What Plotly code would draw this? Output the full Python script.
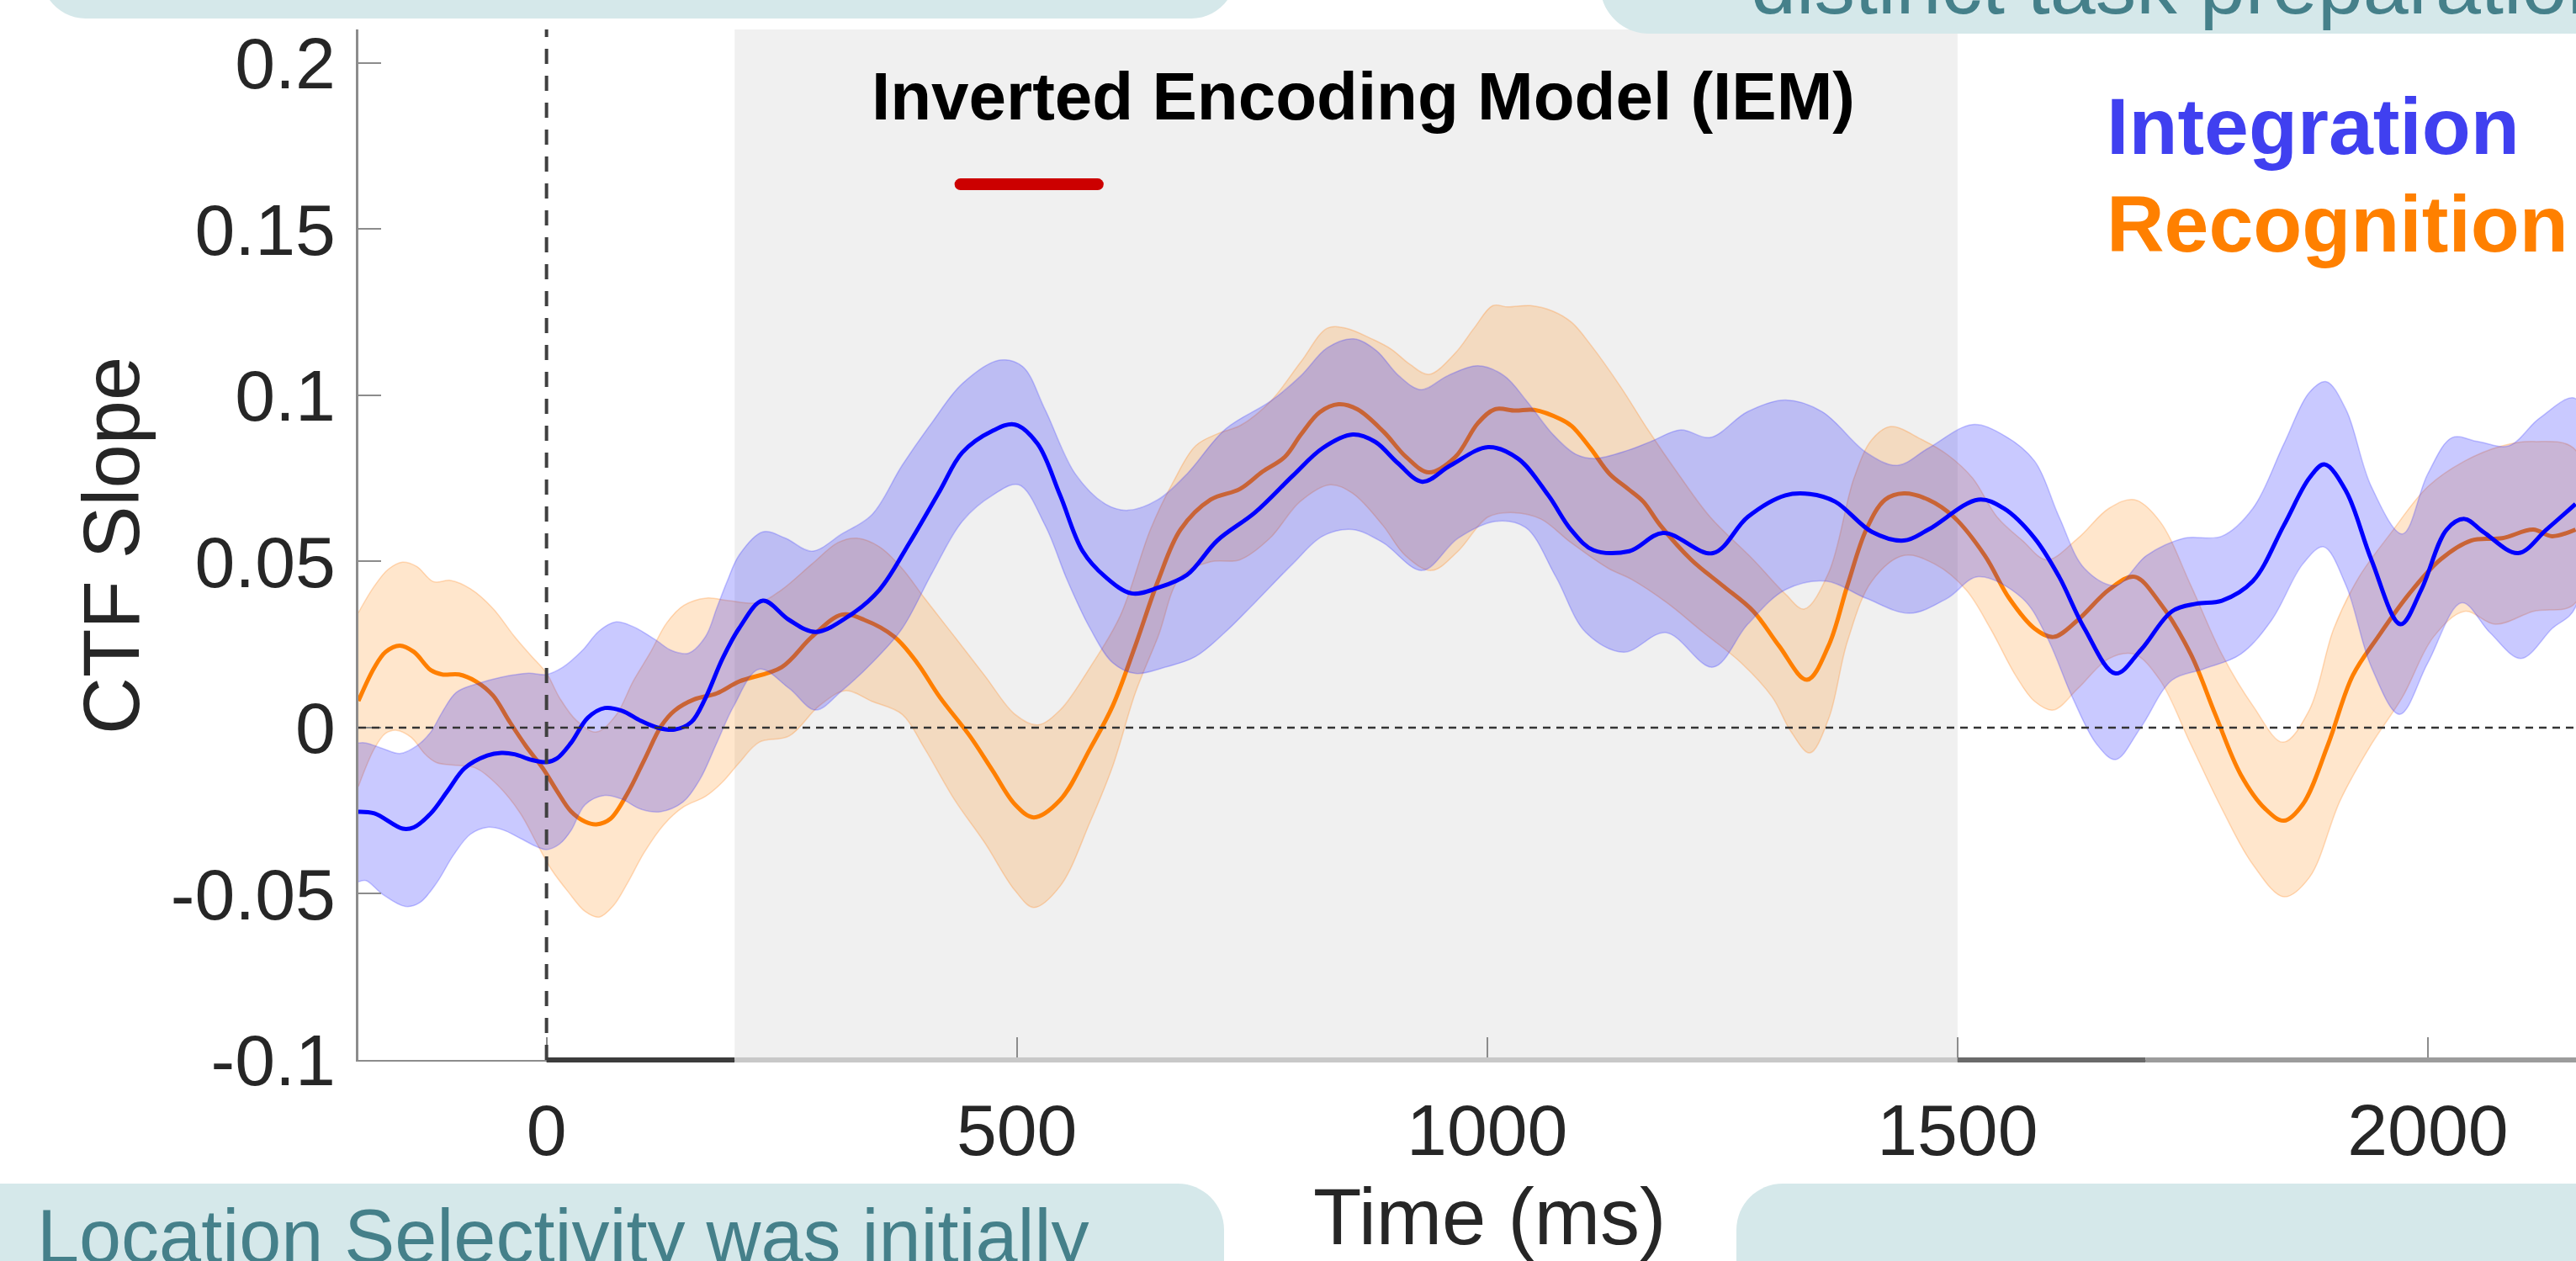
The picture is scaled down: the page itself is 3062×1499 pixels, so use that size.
import plotly.graph_objects as go

# ---------------- data ----------------
int_mean_t = [-200, -183, -153, -141, -123, -105, -87, -63, -48, -34, -16, 0, 11, 26, 44, 62, 80, 100, 118, 136, 154, 169, 187, 205,
              230, 258, 286, 322, 354, 386, 418, 442, 474, 498, 522, 546, 570, 594, 622, 650, 681, 713, 753, 793, 825, 857,
              881, 905, 931, 961, 1001, 1033, 1065, 1089, 1113, 1151, 1187, 1240, 1277, 1317, 1343, 1370, 1409, 1443, 1469,
              1522, 1549, 1582, 1608, 1635, 1668, 1695, 1728, 1754, 1781, 1814, 1847, 1874, 1890, 1913, 1940, 1971, 1993,
              2020, 2039, 2059, 2096, 2126, 2157]
int_mean_v = [-0.0253, -0.0258, -0.0304, -0.0300, -0.0258, -0.0190, -0.0122, -0.0084, -0.0076, -0.0080, -0.0097, -0.0104,
              -0.0093, -0.0046, 0.0030, 0.0059, 0.0051, 0.0021, 0.0000, -0.0006, 0.0017, 0.0089, 0.0207, 0.0300,
              0.0382, 0.0324, 0.0288, 0.0337, 0.0415, 0.0557, 0.0712, 0.0828, 0.0893, 0.0912, 0.0854, 0.0699, 0.0531,
              0.0454, 0.0404, 0.0421, 0.0460, 0.0563, 0.0647, 0.0757, 0.0841, 0.0882, 0.0860, 0.0796, 0.0740, 0.0789,
              0.0844, 0.0809, 0.0699, 0.0596, 0.0534, 0.0531, 0.0586, 0.0525, 0.0634, 0.0699, 0.0703, 0.0680, 0.0589,
              0.0563, 0.0596, 0.0686, 0.0660, 0.0570, 0.0454, 0.0298, 0.0163, 0.0234, 0.0350, 0.0373, 0.0382, 0.0441,
              0.0609, 0.0751, 0.0792, 0.0712, 0.0505, 0.0311, 0.0415, 0.0596, 0.0628, 0.0589, 0.0525, 0.0596, 0.0673]

int_hi_t = [-200, -192, -174, -156, -138, -123, -111, -96, -75, -48, -19, 0, 17, 38, 56, 74, 92, 115, 133, 151, 169, 181, 192,
            205, 230, 254, 282, 314, 346, 378, 410, 442, 482, 506, 530, 562, 594, 618, 650, 681, 722, 770, 802, 830, 858,
            882, 906, 930, 958, 990, 1018, 1042, 1070, 1094, 1114, 1150, 1174, 1206, 1237, 1277, 1317, 1356, 1403, 1436,
            1469, 1516, 1549, 1582, 1608, 1635, 1668, 1701, 1741, 1781, 1814, 1847, 1874, 1892, 1913, 1940, 1973, 2000,
            2026, 2053, 2086, 2119, 2157]
int_hi_v = [-0.0046, -0.0046, -0.0063, -0.0078, -0.0055, -0.0013, 0.0046, 0.0106, 0.0131, 0.0152, 0.0164, 0.0160, 0.0181,
            0.0232, 0.0291, 0.0318, 0.0304, 0.0266, 0.0232, 0.0224, 0.0274, 0.0360, 0.0440, 0.0520, 0.0589, 0.0570,
            0.0531, 0.0583, 0.0641, 0.0789, 0.0919, 0.1035, 0.1106, 0.1087, 0.0957, 0.0764, 0.0673, 0.0654, 0.0686,
            0.0764, 0.0899, 0.0983, 0.1059, 0.1143, 0.1170, 0.1135, 0.1059, 0.1017, 0.1059, 0.1089, 0.1059, 0.0983,
            0.0882, 0.0823, 0.0810, 0.0835, 0.0861, 0.0896, 0.0873, 0.0951, 0.0986, 0.0951, 0.0828, 0.0789, 0.0841,
            0.0912, 0.0880, 0.0802, 0.0634, 0.0479, 0.0428, 0.0518, 0.0570, 0.0576, 0.0660, 0.0854, 0.1009, 0.1041,
            0.0957, 0.0725, 0.0583, 0.0764, 0.0873, 0.0861, 0.0848, 0.0932, 0.0990]

int_lo_t = [-200, -192, -174, -150, -135, -117, -99, -81, -63, -46, -28, -10, 0, 14, 26, 41, 62, 80, 100, 121, 145, 163, 181,
            199, 226, 258, 286, 314, 346, 378, 410, 442, 474, 502, 530, 554, 578, 602, 626, 658, 690, 721, 753, 793, 825,
            857, 889, 931, 969, 1009, 1041, 1073, 1105, 1145, 1190, 1240, 1277, 1317, 1360, 1403, 1449, 1489, 1522, 1569,
            1595, 1622, 1648, 1668, 1695, 1728, 1761, 1801, 1834, 1867, 1889, 1913, 1940, 1970, 2000, 2036, 2066, 2099,
            2132, 2157]
int_lo_v = [-0.0464, -0.0460, -0.0502, -0.0538, -0.0527, -0.0468, -0.0384, -0.0321, -0.0300, -0.0308, -0.0333, -0.0359,
            -0.0367, -0.0350, -0.0310, -0.0232, -0.0204, -0.0215, -0.0245, -0.0253, -0.0224, -0.0156, -0.0046, 0.0065,
            0.0176, 0.0118, 0.0053, 0.0111, 0.0195, 0.0298, 0.0466, 0.0621, 0.0699, 0.0731, 0.0609, 0.0441, 0.0298,
            0.0195, 0.0163, 0.0182, 0.0214, 0.0286, 0.0376, 0.0492, 0.0576, 0.0596, 0.0557, 0.0473, 0.0570, 0.0621,
            0.0602, 0.0454, 0.0286, 0.0227, 0.0286, 0.0182, 0.0311, 0.0415, 0.0441, 0.0389, 0.0344, 0.0389, 0.0454,
            0.0389, 0.0273, 0.0092, -0.0050, -0.0096, 0.0001, 0.0143, 0.0176, 0.0221, 0.0324, 0.0492, 0.0544, 0.0428,
            0.0182, 0.0040, 0.0195, 0.0376, 0.0286, 0.0208, 0.0298, 0.0363]

rec_mean_t = [-200, -183, -171, -156, -141, -123, -111, -93, -75, -57, -40, -22, -4, 11, 26, 41, 53, 68, 86, 104, 122, 136,
              157, 181, 205, 250, 282, 314, 338, 370, 394, 418, 450, 474, 498, 518, 546, 578, 602, 626, 650, 674, 706, 737,
              761, 785, 802, 822, 842, 862, 890, 914, 938, 966, 990, 1008, 1030, 1050, 1078, 1090, 1110, 1130, 1150, 1166,
              1184, 1217, 1250, 1283, 1310, 1340, 1363, 1383, 1403, 1423, 1443, 1469, 1496, 1529, 1555, 1582, 1602, 1628,
              1661, 1688, 1715, 1748, 1774, 1801, 1827, 1847, 1867, 1894, 1920, 1947, 1980, 2013, 2046, 2079, 2112, 2132,
              2157]
rec_mean_v = [0.0080, 0.0181, 0.0228, 0.0247, 0.0228, 0.0173, 0.0160, 0.0160, 0.0139, 0.0097, 0.0021, -0.0055, -0.0122,
              -0.0190, -0.0252, -0.0283, -0.0291, -0.0274, -0.0198, -0.0097, 0.0005, 0.0051, 0.0085, 0.0103, 0.0139,
              0.0182, 0.0273, 0.0340, 0.0324, 0.0273, 0.0195, 0.0092, -0.0025, -0.0128, -0.0231, -0.0270, -0.0218,
              -0.0063, 0.0066, 0.0247, 0.0441, 0.0596, 0.0686, 0.0718, 0.0770, 0.0815, 0.0882, 0.0949, 0.0973, 0.0958,
              0.0890, 0.0814, 0.0768, 0.0814, 0.0916, 0.0958, 0.0954, 0.0956, 0.0928, 0.0907, 0.0840, 0.0764, 0.0718,
              0.0680, 0.0609, 0.0505, 0.0428, 0.0350, 0.0247, 0.0144, 0.0247, 0.0428, 0.0596, 0.0686, 0.0705, 0.0686,
              0.0634, 0.0518, 0.0389, 0.0298, 0.0273, 0.0324, 0.0415, 0.0454, 0.0376, 0.0221, 0.0040, -0.0141, -0.0244,
              -0.0280, -0.0231, -0.0050, 0.0156, 0.0273, 0.0402, 0.0505, 0.0563, 0.0570, 0.0596, 0.0576, 0.0596]

rec_hi_t = [-200, -183, -168, -153, -138, -120, -102, -81, -57, -34, -16, 0, 14, 32, 53, 74, 92, 110, 128, 146, 170, 194,
            226, 250, 282, 310, 330, 354, 378, 402, 434, 466, 498, 522, 546, 578, 610, 642, 666, 690, 714, 738, 770, 802,
            830, 850, 878, 898, 918, 938, 966, 986, 1006, 1022, 1046, 1070, 1090, 1110, 1142, 1171, 1204, 1237, 1283, 1317,
            1337, 1363, 1390, 1409, 1429, 1462, 1489, 1516, 1542, 1569, 1595, 1628, 1661, 1688, 1715, 1748, 1781, 1814,
            1846, 1874, 1900, 1927, 1960, 2000, 2039, 2079, 2112, 2157]
rec_hi_v = [0.0346, 0.0426, 0.0477, 0.0498, 0.0485, 0.0439, 0.0443, 0.0418, 0.0359, 0.0274, 0.0215, 0.0164, 0.0089, 0.0021,
            -0.0013, 0.0038, 0.0139, 0.0224, 0.0316, 0.0368, 0.0390, 0.0382, 0.0376, 0.0415, 0.0492, 0.0557, 0.0570,
            0.0544, 0.0479, 0.0389, 0.0273, 0.0156, 0.0040, 0.0008, 0.0053, 0.0182, 0.0337, 0.0596, 0.0738, 0.0848,
            0.0885, 0.0910, 0.0983, 0.1101, 0.1202, 0.1202, 0.1169, 0.1139, 0.1093, 0.1063, 0.1127, 0.1202, 0.1270,
            0.1266, 0.1270, 0.1253, 0.1219, 0.1152, 0.1025, 0.0896, 0.0760, 0.0634, 0.0505, 0.0402, 0.0357, 0.0466,
            0.0751, 0.0867, 0.0906, 0.0867, 0.0822, 0.0751, 0.0634, 0.0563, 0.0505, 0.0570, 0.0660, 0.0686, 0.0621,
            0.0428, 0.0221, 0.0066, -0.0044, 0.0053, 0.0298, 0.0454, 0.0583, 0.0725, 0.0802, 0.0848, 0.0861, 0.0835]

rec_lo_t = [-200, -183, -171, -159, -144, -129, -117, -93, -75, -52, -28, -10, 5, 23, 41, 56, 71, 86, 104, 125, 146, 169,
            187, 205, 226, 258, 290, 318, 346, 378, 402, 434, 466, 498, 518, 546, 578, 602, 626, 650, 674, 706, 737, 769,
            801, 833, 857, 889, 913, 941, 969, 1001, 1029, 1057, 1089, 1129, 1153, 1191, 1230, 1270, 1303, 1323, 1343,
            1363, 1383, 1409, 1443, 1476, 1509, 1535, 1562, 1582, 1602, 1628, 1661, 1688, 1715, 1748, 1781, 1814, 1847,
            1874, 1907, 1940, 1973, 2006, 2039, 2072, 2112, 2157]
rec_lo_v = [-0.0177, -0.0063, -0.0017, -0.0008, -0.0029, -0.0080, -0.0105, -0.0114, -0.0122, -0.0173, -0.0257, -0.0350,
            -0.0426, -0.0494, -0.0553, -0.0570, -0.0536, -0.0468, -0.0375, -0.0291, -0.0238, -0.0207, -0.0164, -0.0105,
            -0.0044, -0.0025, 0.0066, 0.0111, 0.0079, 0.0040, -0.0063, -0.0218, -0.0347, -0.0490, -0.0541, -0.0477,
            -0.0283, -0.0115, 0.0105, 0.0273, 0.0454, 0.0499, 0.0505, 0.0570, 0.0680, 0.0731, 0.0705, 0.0609, 0.0518,
            0.0473, 0.0531, 0.0634, 0.0647, 0.0628, 0.0557, 0.0479, 0.0447, 0.0376, 0.0286, 0.0195, 0.0092, -0.0012,
            -0.0076, 0.0027, 0.0260, 0.0441, 0.0518, 0.0492, 0.0415, 0.0298, 0.0156, 0.0079, 0.0053, 0.0118, 0.0208,
            0.0221, 0.0144, -0.0050, -0.0244, -0.0412, -0.0509, -0.0451, -0.0218, -0.0050, 0.0092, 0.0273, 0.0350,
            0.0311, 0.0350, 0.0376]

x_ticks = [0, 500, 1000, 1500, 2000]
x_ticklabels = ["0", "500", "1000", "1500", "2000"]
y_ticks = [-0.1, -0.05, 0, 0.05, 0.1, 0.15, 0.2]
y_ticklabels = ["-0.1", "-0.05", "0", "0.05", "0.1", "0.15", "0.2"]
x_range = [-200, 2157.5]
y_range = [-0.1, 0.2101]

delay_window = [200, 1500]
sig_window = [440, 586]
sig_level = 0.1635
epoch_bounds = [0, 200, 1500, 1700, 2400]
epoch_colors = ["#3c3c3c", "#c8c8c8", "#6a6a6a", "#9c9c9c"]

title_text = "Inverted Encoding Model (IEM)"
series_names = ["Integration", "Recognition"]
x_title = "Time (ms)"
y_title = "CTF Slope"
note_top = "distinct task preparation"
note_bottom = "Location Selectivity was initially"

# ---------------- layout geometry (pixels) ----------------
W, H = 3062, 1499
ML, MR, MT, MB = 426, 0, 35, 239
PW = W - ML - MR
PH = H - MT - MB


def px(x):
    return (x - ML) / PW


def py(y):
    return (H - MB - y) / PH


def rrect(x0, y0, x1, y1, r):
    k = 0.5523 * r
    pts = [
        ("M", [(x0 + r, y0)]),
        ("L", [(x1 - r, y0)]),
        ("C", [(x1 - r + k, y0), (x1, y0 + r - k), (x1, y0 + r)]),
        ("L", [(x1, y1 - r)]),
        ("C", [(x1, y1 - r + k), (x1 - r + k, y1), (x1 - r, y1)]),
        ("L", [(x0 + r, y1)]),
        ("C", [(x0 + r - k, y1), (x0, y1 - r + k), (x0, y1 - r)]),
        ("L", [(x0, y0 + r)]),
        ("C", [(x0, y0 + r - k), (x0 + r - k, y0), (x0 + r, y0)]),
    ]
    s = ""
    for cmd, ps in pts:
        s += cmd + " " + " ".join(f"{px(a):.5f},{py(b):.5f}" for a, b in ps) + " "
    return s + "Z"


FONT = "Liberation Sans, Arial, Helvetica, sans-serif"
TEAL_BOX = "#d5e8ea"
TEAL_TEXT = "#45808a"

fig = go.Figure()

# Recognition band + line
fig.add_trace(go.Scatter(
    x=rec_hi_t + rec_lo_t[::-1], y=rec_hi_v + rec_lo_v[::-1],
    mode="lines", fill="toself", fillcolor="rgba(255,128,0,0.2)",
    line=dict(color="rgba(255,140,40,0.30)", width=1.5, shape="spline", smoothing=1),
    hoverinfo="skip", showlegend=False))
fig.add_trace(go.Scatter(
    x=rec_mean_t, y=rec_mean_v, mode="lines",
    line=dict(color="#ff7f00", width=5, shape="spline", smoothing=1),
    name=series_names[1], showlegend=False))

# Integration band + line
fig.add_trace(go.Scatter(
    x=int_hi_t + int_lo_t[::-1], y=int_hi_v + int_lo_v[::-1],
    mode="lines", fill="toself", fillcolor="rgba(0,0,255,0.21)",
    line=dict(color="rgba(60,60,255,0.28)", width=1.5, shape="spline", smoothing=1),
    hoverinfo="skip", showlegend=False))
fig.add_trace(go.Scatter(
    x=int_mean_t, y=int_mean_v, mode="lines",
    line=dict(color="#0000ff", width=5, shape="spline", smoothing=1),
    name=series_names[0], showlegend=False))

# significance bar
fig.add_trace(go.Scatter(
    x=sig_window, y=[sig_level, sig_level], mode="lines+markers",
    line=dict(color="#cc0000", width=14),
    marker=dict(color="#cc0000", size=14, line=dict(width=0)),
    hoverinfo="skip", showlegend=False))

shapes = []
# delay shading
shapes.append(dict(type="rect", xref="x", yref="paper", x0=delay_window[0], x1=delay_window[1], y0=0, y1=1,
                   fillcolor="#f0f0f0", line=dict(width=0), layer="below"))
# zero line
shapes.append(dict(type="line", xref="paper", yref="y", x0=0, x1=1, y0=0, y1=0,
                   line=dict(color="#333333", width=2.5, dash="9px,7px"), layer="above"))
# onset line
shapes.append(dict(type="line", xref="x", yref="paper", x0=0, x1=0, y0=0, y1=1,
                   line=dict(color="#404040", width=4, dash="18px,14px"), layer="above"))
# epoch bars on x axis
for i, c in enumerate(epoch_colors):
    shapes.append(dict(type="line", xref="x", yref="paper", x0=epoch_bounds[i], x1=epoch_bounds[i + 1],
                       y0=0, y1=0, line=dict(color=c, width=6), layer="above"))
# decorative slide boxes
shapes.append(dict(type="path", xref="paper", yref="paper", path=rrect(49, -300, 1469, 22, 53),
                   fillcolor=TEAL_BOX, line=dict(width=0), layer="above"))
shapes.append(dict(type="path", xref="paper", yref="paper", path=rrect(1902, -300, 3300, 40, 58),
                   fillcolor=TEAL_BOX, line=dict(width=0), layer="above"))
shapes.append(dict(type="path", xref="paper", yref="paper", path=rrect(-200, 1407, 1455, 1800, 55),
                   fillcolor=TEAL_BOX, line=dict(width=0), layer="above"))
shapes.append(dict(type="path", xref="paper", yref="paper", path=rrect(2064, 1407, 3300, 1800, 55),
                   fillcolor=TEAL_BOX, line=dict(width=0), layer="above"))


def ann(text, x, yc, size, color, xanchor="center", bold=False, angle=0):
    return dict(text=text, xref="paper", yref="paper", x=px(x), y=py(yc), xanchor=xanchor, yanchor="middle",
                showarrow=False, textangle=angle, borderpad=0,
                font=dict(family=FONT, size=size, color=color, weight="bold" if bold else "normal"))


annotations = [
    ann(title_text, 1620, 142 - 0.3465 * 80, 80, "#000000", bold=True),
    ann(series_names[0], 2503, 183 - 0.3465 * 95, 95, "#4040f0", xanchor="left", bold=True),
    ann(series_names[1], 2503, 299 - 0.3465 * 95, 95, "#ff8000", xanchor="left", bold=True),
    ann(x_title, 1770, 1479 - 0.3465 * 94, 94, "#262626"),
    ann(y_title, 132, 649, 94, "#262626", angle=-90),
    ann(note_bottom, 43, 1501 - 0.3465 * 90, 90, TEAL_TEXT, xanchor="left"),
    ann(note_top, 2080, 16 - 0.3465 * 97, 97, TEAL_TEXT, xanchor="left"),
]

fig.update_layout(
    width=W, height=H,
    margin=dict(l=ML, r=MR, t=MT, b=MB, pad=0),
    paper_bgcolor="white", plot_bgcolor="white",
    shapes=shapes, annotations=annotations,
    showlegend=False,
    xaxis=dict(range=x_range, tickmode="array", tickvals=x_ticks, ticktext=x_ticklabels,
               ticks="inside", ticklen=27, tickwidth=2, tickcolor="#8c8c8c",
               showline=True, linecolor="#8c8c8c", linewidth=2, showgrid=False, zeroline=False,
               tickfont=dict(family=FONT, size=86, color="#262626"), ticklabelstandoff=8),
    yaxis=dict(range=y_range, tickmode="array", tickvals=y_ticks, ticktext=y_ticklabels,
               ticks="inside", ticklen=27, tickwidth=2, tickcolor="#8c8c8c",
               showline=True, linecolor="#8c8c8c", linewidth=3, showgrid=False, zeroline=False,
               tickfont=dict(family=FONT, size=86, color="#262626"), ticklabelstandoff=7),
)

fig.write_html("out.html")
